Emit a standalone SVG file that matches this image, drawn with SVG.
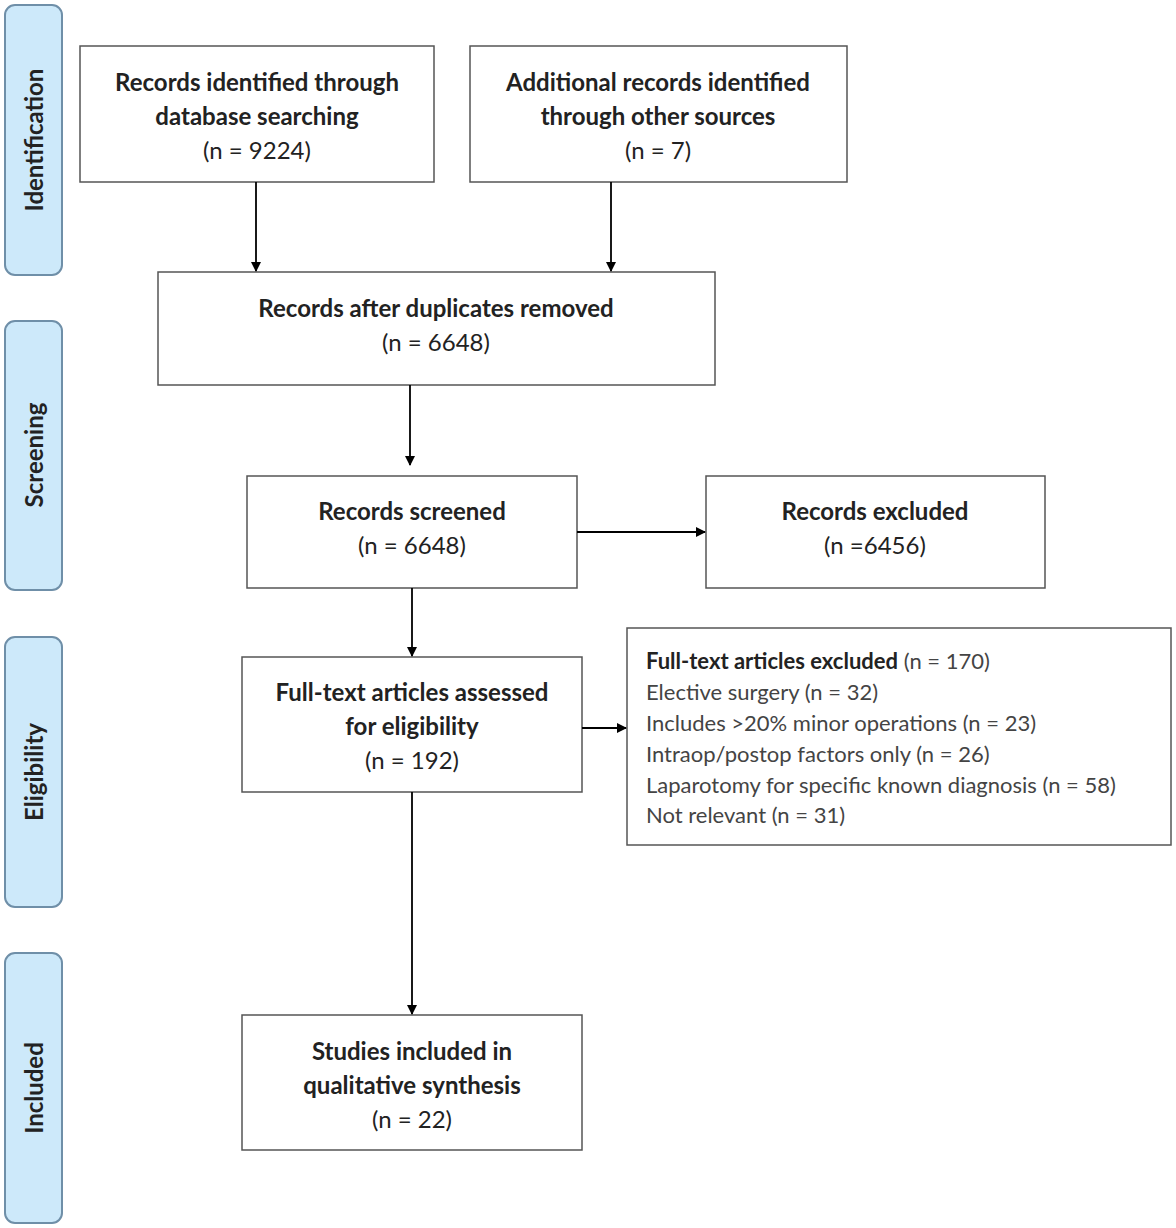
<svg xmlns="http://www.w3.org/2000/svg" width="1176" height="1228" viewBox="0 0 1176 1228">
<defs>
<marker id="ah" markerWidth="10" markerHeight="10" refX="9" refY="5" orient="auto" markerUnits="userSpaceOnUse"><path d="M0,0 L10,5 L0,10 z" fill="#000"/></marker>
<style>
.tab{fill:#cde9fa;stroke:#6f8fa8;stroke-width:2}
.box{fill:#fff;stroke:#555;stroke-width:1.5}
text{font-family:Lato,"Open Sans",sans-serif;font-size:24px;fill:#222}
.b{font-weight:bold}
.c{text-anchor:middle}
.s{font-size:22px;fill:#444}
.tt{font-weight:bold;font-size:24px;text-anchor:middle}
.ln{stroke:#000;stroke-width:1.8;fill:none;marker-end:url(#ah)}
</style>
</defs>
<rect width="1176" height="1228" fill="#fff"/>
<g id="tab-identification"><rect class="tab" x="5" y="5" width="57" height="270" rx="10"/><text class="tt" transform="translate(43,140) rotate(-90)">Identification</text></g>
<g id="tab-screening"><rect class="tab" x="5" y="321" width="57" height="269" rx="10"/><text class="tt" transform="translate(43,455) rotate(-90)">Screening</text></g>
<g id="tab-eligibility"><rect class="tab" x="5" y="637" width="57" height="270" rx="10"/><text class="tt" transform="translate(43,772) rotate(-90)">Eligibility</text></g>
<g id="tab-included"><rect class="tab" x="5" y="953" width="57" height="270" rx="10"/><text class="tt" transform="translate(43,1088) rotate(-90)">Included</text></g>
<g id="n1"><rect class="box" x="80" y="46" width="354" height="136"/><text class="c b" x="257" y="91">Records identified through</text><text class="c b" x="257" y="125">database searching</text><text class="c" x="257" y="159">(n = 9224)</text></g>
<g id="n2"><rect class="box" x="470" y="46" width="377" height="136"/><text class="c b" x="658" y="91">Additional records identified</text><text class="c b" x="658" y="125">through other sources</text><text class="c" x="658" y="159">(n = 7)</text></g>
<g id="n3"><rect class="box" x="158" y="272" width="557" height="113"/><text class="c b" x="436" y="317">Records after duplicates removed</text><text class="c" x="436" y="351">(n = 6648)</text></g>
<g id="n4"><rect class="box" x="247" y="476" width="330" height="112"/><text class="c b" x="412" y="520">Records screened</text><text class="c" x="412" y="554">(n = 6648)</text></g>
<g id="n5"><rect class="box" x="706" y="476" width="339" height="112"/><text class="c b" x="875" y="520">Records excluded</text><text class="c" x="875" y="554">(n =6456)</text></g>
<g id="n6"><rect class="box" x="242" y="657" width="340" height="135"/><text class="c b" x="412" y="701">Full-text articles assessed</text><text class="c b" x="412" y="735">for eligibility</text><text class="c" x="412" y="769">(n = 192)</text></g>
<g id="n7"><rect class="box" x="627" y="628" width="544" height="217"/>
<text x="646" y="669" class="s"><tspan font-weight="bold" fill="#222">Full-text articles excluded</tspan> (n = 170)</text>
<text x="646" y="700" class="s">Elective surgery (n = 32)</text>
<text x="646" y="731" class="s">Includes &gt;20% minor operations (n = 23)</text>
<text x="646" y="762" class="s">Intraop/postop factors only (n = 26)</text>
<text x="646" y="793" class="s">Laparotomy for specific known diagnosis (n = 58)</text>
<text x="646" y="823" class="s">Not relevant (n = 31)</text></g>
<g id="n8"><rect class="box" x="242" y="1015" width="340" height="135"/><text class="c b" x="412" y="1060">Studies included in</text><text class="c b" x="412" y="1094">qualitative synthesis</text><text class="c" x="412" y="1128">(n = 22)</text></g>
<g id="connectors">
<path class="ln" d="M256,182 V271"/>
<path class="ln" d="M611,182 V271"/>
<path class="ln" d="M410,385 V465"/>
<path class="ln" d="M577,532 H705"/>
<path class="ln" d="M412,588 V656"/>
<path class="ln" d="M582,728 H626"/>
<path class="ln" d="M412,792 V1014"/>
</g>
</svg>
